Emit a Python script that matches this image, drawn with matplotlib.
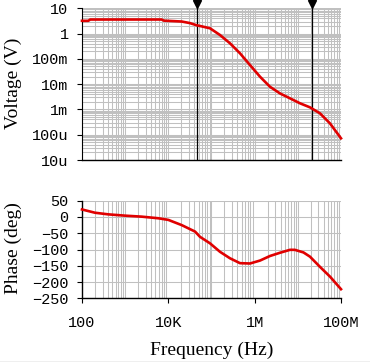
import matplotlib
matplotlib.use("Agg")
import matplotlib.pyplot as plt
import matplotlib.ticker as mticker
import matplotlib.transforms as mtransforms
from matplotlib.lines import Line2D

# ---- data ----
freq_v = [100, 140, 155, 7000, 7900, 20400, 31600, 45400, 54100, 92300, 157000,
          268000, 457000, 780000, 1.33e6, 2.26e6, 3.86e6, 6.58e6, 1.12e7, 1.91e7,
          2.28e7, 3.26e7, 5.56e7, 1e8]
volt = [3.2, 3.2, 3.6, 3.6, 3.25, 3.0, 2.6, 2.13, 2.0, 1.62, 0.88, 0.413, 0.166,
        0.057, 0.0197, 0.0079, 0.0043, 0.00275, 0.00175, 0.00121, 0.00101,
        0.00070, 0.00028, 0.000072]

freq_p = [100, 200, 407, 1000, 2400, 5890, 10000, 20400, 41700, 54100, 92300,
          157000, 268000, 457000, 780000, 1.33e6, 2.26e6, 3.86e6, 6.58e6, 8.5e6,
          1.35e7, 1.91e7, 3.24e7, 5.62e7, 1e8]
phase = [23, 13, 8, 4, 1, -4, -9, -25, -45, -61, -81, -107, -127, -142, -143,
         -134, -120, -110, -101, -101, -109, -122, -153, -184, -222]

cursors = [45400, 2.09e7]

v_ticks = [1e1, 1e0, 1e-1, 1e-2, 1e-3, 1e-4, 1e-5]
v_labels = ["10", "1", "100m", "10m", "1m", "100u", "10u"]
p_ticks = [50, 0, -50, -100, -150, -200, -250]
p_labels = ["50", "0", "\u221250", "\u2212100", "\u2212150", "\u2212200", "\u2212250"]
f_ticks = [1e2, 1e4, 1e6, 1e8]
f_labels = ["100", "10K", "1M", "100M"]

# ---- style ----
W, H = 370, 362
fig = plt.figure(figsize=(W / 100, H / 100), dpi=100)
mono = ["Liberation Mono", "DejaVu Sans Mono"]
serif = ["Liberation Serif", "DejaVu Serif"]
grid_c = "#c0c0c0"
red = "#e00000"
tick_len = 5 * 0.72

def px(x0, y0, x1, y1):
    return [x0 / W, 1 - y1 / H, (x1 - x0) / W, (y1 - y0) / H]

# ---- voltage axes ----
ax1 = fig.add_axes(px(82, 8.3, 341, 160))
ax1.set_xscale("log")
ax1.set_yscale("log")
ax1.set_xlim(1e2, 1e8)
ax1.set_ylim(1e-5, 1e1)
ax1.xaxis.set_major_locator(mticker.LogLocator(base=10, numticks=20))
ax1.xaxis.set_minor_locator(mticker.LogLocator(base=10, subs=range(2, 10), numticks=20))
ax1.yaxis.set_minor_locator(mticker.LogLocator(base=10, subs=range(2, 10), numticks=20))
ax1.set_yticks(v_ticks, v_labels)
ax1.yaxis.set_minor_formatter(mticker.NullFormatter())
ax1.xaxis.set_major_formatter(mticker.NullFormatter())
ax1.xaxis.set_minor_formatter(mticker.NullFormatter())
ax1.grid(True, which="both", color=grid_c, lw=0.75)
ax1.set_axisbelow(True)
ax1.tick_params(axis="x", which="both", length=0)
ax1.tick_params(axis="y", which="minor", length=0)
ax1.tick_params(axis="y", which="major", length=tick_len, width=0.8, direction="out", pad=6)
for lab in ax1.get_yticklabels():
    lab.set_fontfamily(mono)
    lab.set_fontsize(11)
for s in ["top", "right"]:
    ax1.spines[s].set_visible(False)
ax1.spines["left"].set_linestyle((0, (1, 1)))
ax1.spines["left"].set_linewidth(0.8)
ax1.spines["bottom"].set_linewidth(1.0)
for c in cursors:
    ax1.axvline(c, color="black", lw=0.9, zorder=3)
trans = mtransforms.blended_transform_factory(ax1.transData, ax1.transAxes)
ax1.plot(cursors, [1.03, 1.03], linestyle="none", marker="v", color="black",
         markersize=6, transform=trans, clip_on=False)
ax1.plot(freq_v, volt, color=red, lw=1.9, zorder=4, clip_on=False)

# ---- phase axes ----
ax2 = fig.add_axes(px(82, 200.7, 341, 298.3))
ax2.set_xscale("log")
ax2.set_xlim(1e2, 1e8)
ax2.set_ylim(-250, 50)
ax2.set_xticks(f_ticks, f_labels)
ax2.xaxis.set_minor_locator(mticker.LogLocator(base=10, subs=range(1, 10), numticks=20))
ax2.xaxis.set_minor_formatter(mticker.NullFormatter())
ax2.set_yticks(p_ticks, p_labels)
ax2.grid(True, axis="x", which="minor", color=grid_c, lw=0.75)
ax2.grid(True, axis="y", which="major", color=grid_c, lw=0.75)
ax2.set_axisbelow(True)
ax2.tick_params(axis="x", which="minor", length=0)
ax2.tick_params(axis="x", which="major", length=tick_len, width=0.8, direction="out", pad=9)
ax2.tick_params(axis="y", which="major", length=tick_len, width=0.8, direction="out", pad=6)
for lab in ax2.get_yticklabels() + ax2.get_xticklabels():
    lab.set_fontfamily(mono)
    lab.set_fontsize(11)
for s in ["top", "right"]:
    ax2.spines[s].set_visible(False)
ax2.spines["left"].set_linewidth(1.0)
ax2.spines["bottom"].set_linewidth(1.0)
ax2.plot(freq_p, phase, color=red, lw=1.9, zorder=4, clip_on=False)

# ---- labels ----
fig.text(13 / W, 1 - 83 / H, "Voltage (V)", rotation=90, ha="center", va="center",
         family=serif, fontsize=14)
fig.text(13 / W, 1 - 248 / H, "Phase (deg)", rotation=90, ha="center", va="center",
         family=serif, fontsize=14)
fig.text(211.5 / W, 1 - 350 / H, "Frequency (Hz)", ha="center", va="center",
         family=serif, fontsize=14)
fig.add_artist(Line2D([0, 1], [0.5 / H, 0.5 / H], transform=fig.transFigure,
                      color="#b0b0b0", lw=1))

fig.savefig("out.png", dpi=100)
